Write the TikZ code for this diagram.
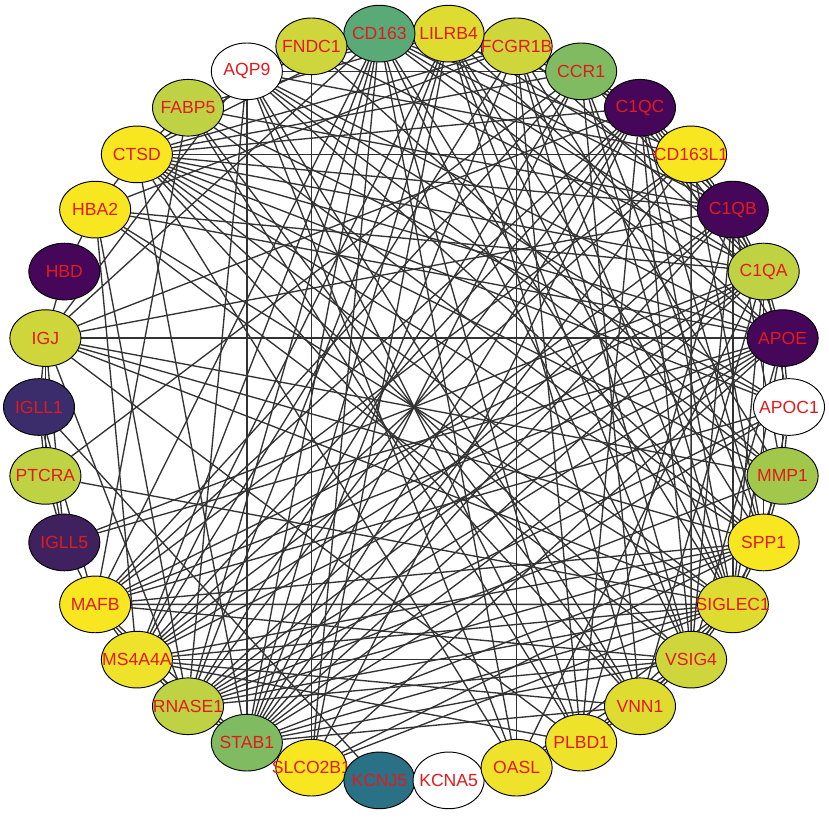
\documentclass[tikz,border=0pt]{standalone}
\usepackage{fontspec}
\setmainfont{Liberation Sans}
\usepackage{xcolor}
\usepackage{tikz}
\usetikzlibrary{shapes.geometric,backgrounds}
\definecolor{GeneLabel}{HTML}{E31A1C}
\definecolor{GeneLink}{HTML}{333333}
\definecolor{GenePurple}{HTML}{46065A}
\definecolor{GeneIndigo}{HTML}{3B2C6C}
\definecolor{GeneViolet}{HTML}{3F2160}
\definecolor{GeneTeal}{HTML}{2A7185}
\definecolor{GeneGreen}{HTML}{5AAA78}
\definecolor{GeneLeaf}{HTML}{80BB62}
\definecolor{GeneLime}{HTML}{A2C84B}
\definecolor{GeneOlive}{HTML}{BFD243}
\definecolor{GeneChartreuse}{HTML}{CFD63B}
\definecolor{GeneCitron}{HTML}{DEDC31}
\definecolor{GeneGold}{HTML}{EEE22B}
\definecolor{GeneYellow}{HTML}{F8E621}

\begin{document}
\begin{tikzpicture}[x=0.3mm,y=0.3mm,
    gene/.style={ellipse, draw=black, line width=0.8pt, minimum width=21.3mm,
      minimum height=17mm, inner sep=0pt, text=GeneLabel,
      font=\fontsize{15pt}{17pt}\selectfont},
    link/.style={GeneLink, line width=1.15pt}]
  \useasboundingbox (-414,-410) rectangle (415,407);
  % genes on the ring, counter-clockwise from the right
  \foreach \k/\g/\c in {0/APOC1/white, 1/APOE/GenePurple, 2/C1QA/GeneOlive,
      3/C1QB/GenePurple, 4/CD163L1/GeneYellow, 5/C1QC/GenePurple,
      6/CCR1/GeneLeaf, 7/FCGR1B/GeneChartreuse, 8/LILRB4/GeneCitron,
      9/CD163/GeneGreen, 10/FNDC1/GeneChartreuse, 11/AQP9/white,
      12/FABP5/GeneOlive, 13/CTSD/GeneYellow, 14/HBA2/GeneYellow,
      15/HBD/GenePurple, 16/IGJ/GeneChartreuse, 17/IGLL1/GeneIndigo,
      18/PTCRA/GeneOlive, 19/IGLL5/GeneViolet, 20/MAFB/GeneYellow,
      21/MS4A4A/GeneGold, 22/RNASE1/GeneOlive, 23/STAB1/GeneLeaf,
      24/SLCO2B1/GeneYellow, 25/KCNJ5/GeneTeal, 26/KCNA5/white,
      27/OASL/GeneGold, 28/PLBD1/GeneGold, 29/VNN1/GeneCitron,
      30/VSIG4/GeneChartreuse, 31/SIGLEC1/GeneCitron, 32/SPP1/GeneYellow,
      33/MMP1/GeneLime} {
    \node[gene, fill=\c] (\g) at ({\k*360/34}:375) {\makebox[0pt]{\g}};
  }
  \begin{pgfonlayer}{background}
    \foreach \a/\b in {APOC1/APOE, APOC1/MMP1, APOC1/SPP1, APOC1/C1QA,
        APOC1/CTSD, APOC1/AQP9, APOC1/FABP5, APOC1/STAB1, APOC1/MAFB,
        APOC1/RNASE1,
        APOE/C1QA, APOE/C1QB, APOE/C1QC, APOE/CD163, APOE/LILRB4, APOE/AQP9,
        APOE/CTSD, APOE/HBA2, APOE/IGJ, APOE/MAFB, APOE/MS4A4A, APOE/RNASE1,
        APOE/STAB1, APOE/SLCO2B1, APOE/VSIG4, APOE/SIGLEC1, APOE/MMP1,
        APOE/IGLL5,
        C1QA/C1QB, C1QA/C1QC, C1QA/CD163L1, C1QA/CCR1, C1QA/FCGR1B,
        C1QA/CD163, C1QA/FNDC1, C1QA/CTSD, C1QA/HBA2, C1QA/MAFB, C1QA/MS4A4A,
        C1QA/STAB1, C1QA/RNASE1, C1QA/OASL, C1QA/VNN1, C1QA/SIGLEC1,
        C1QA/SPP1, C1QA/IGLL5,
        C1QB/C1QC, C1QB/CD163L1, C1QB/CCR1, C1QB/LILRB4, C1QB/CD163,
        C1QB/FABP5, C1QB/CTSD, C1QB/IGJ, C1QB/MS4A4A, C1QB/RNASE1,
        C1QB/STAB1, C1QB/PLBD1, C1QB/VSIG4, C1QB/SIGLEC1, C1QB/MMP1,
        CD163L1/C1QC, CD163L1/CD163, CD163L1/AQP9, CD163L1/CTSD,
        CD163L1/MAFB, CD163L1/MS4A4A, CD163L1/STAB1, CD163L1/VSIG4,
        CD163L1/SPP1,
        C1QC/CCR1, C1QC/FCGR1B, C1QC/LILRB4, C1QC/CTSD, C1QC/IGJ, C1QC/MAFB,
        C1QC/MS4A4A, C1QC/RNASE1, C1QC/STAB1, C1QC/SLCO2B1, C1QC/PLBD1,
        C1QC/VSIG4, C1QC/SIGLEC1, C1QC/SPP1,
        CCR1/FCGR1B, CCR1/LILRB4, CCR1/CD163, CCR1/AQP9, CCR1/CTSD,
        CCR1/PTCRA, CCR1/MAFB, CCR1/RNASE1, CCR1/STAB1, CCR1/VNN1,
        CCR1/SIGLEC1, CCR1/SPP1,
        FCGR1B/LILRB4, FCGR1B/CD163, FCGR1B/CTSD, FCGR1B/HBA2, FCGR1B/MS4A4A,
        FCGR1B/STAB1, FCGR1B/OASL, FCGR1B/PLBD1, FCGR1B/VSIG4,
        FCGR1B/SIGLEC1, FCGR1B/MMP1,
        LILRB4/CD163, LILRB4/AQP9, LILRB4/FABP5, LILRB4/MS4A4A,
        LILRB4/RNASE1, LILRB4/STAB1, LILRB4/SLCO2B1, LILRB4/VNN1,
        LILRB4/VSIG4, LILRB4/SIGLEC1, LILRB4/SPP1,
        CD163/FNDC1, CD163/CTSD, CD163/IGJ, CD163/MAFB, CD163/MS4A4A,
        CD163/RNASE1, CD163/STAB1, CD163/SLCO2B1, CD163/OASL, CD163/PLBD1,
        CD163/VSIG4, CD163/SIGLEC1,
        FNDC1/CTSD, FNDC1/SLCO2B1, FNDC1/MMP1,
        AQP9/RNASE1, AQP9/STAB1, AQP9/OASL, AQP9/PLBD1, AQP9/VNN1, AQP9/SPP1,
        AQP9/MMP1, AQP9/IGJ,
        FABP5/CTSD, FABP5/PLBD1, FABP5/VNN1, FABP5/SPP1, FABP5/MAFB,
        CTSD/HBA2, CTSD/STAB1, CTSD/VSIG4, CTSD/SIGLEC1, CTSD/SPP1,
        CTSD/MMP1, CTSD/OASL, CTSD/VNN1,
        HBA2/HBD, HBA2/MS4A4A, HBA2/RNASE1, HBA2/SIGLEC1, HBA2/VSIG4,
        HBD/IGJ,
        IGJ/IGLL1, IGJ/PTCRA, IGJ/IGLL5, IGJ/SPP1, IGJ/SIGLEC1, IGJ/PLBD1,
        IGJ/RNASE1, IGJ/MMP1,
        IGLL1/PTCRA, IGLL1/IGLL5, IGLL1/MAFB, IGLL1/KCNJ5,
        PTCRA/IGLL5, PTCRA/SIGLEC1, IGLL5/MAFB,
        MAFB/MS4A4A, MAFB/RNASE1, MAFB/STAB1, MAFB/SIGLEC1, MAFB/VSIG4,
        MAFB/SPP1,
        MS4A4A/RNASE1, MS4A4A/STAB1, MS4A4A/VSIG4, MS4A4A/SIGLEC1,
        MS4A4A/VNN1, MS4A4A/PLBD1, MS4A4A/SPP1,
        RNASE1/STAB1, RNASE1/SIGLEC1, RNASE1/VSIG4, RNASE1/SPP1, RNASE1/MMP1,
        STAB1/SLCO2B1, STAB1/VSIG4, STAB1/SIGLEC1, STAB1/SPP1, STAB1/VNN1,
        SLCO2B1/KCNJ5, SLCO2B1/SIGLEC1, SLCO2B1/SPP1, KCNJ5/KCNA5,
        OASL/PLBD1, OASL/VSIG4, OASL/SIGLEC1,
        PLBD1/VNN1, PLBD1/VSIG4, PLBD1/SIGLEC1,
        VNN1/VSIG4, VNN1/SIGLEC1, VSIG4/SIGLEC1, VSIG4/SPP1,
        SIGLEC1/SPP1, SIGLEC1/MMP1, SPP1/MMP1} {
      \draw[link] (\a) -- (\b);
    }
  \end{pgfonlayer}
\end{tikzpicture}
\end{document}
